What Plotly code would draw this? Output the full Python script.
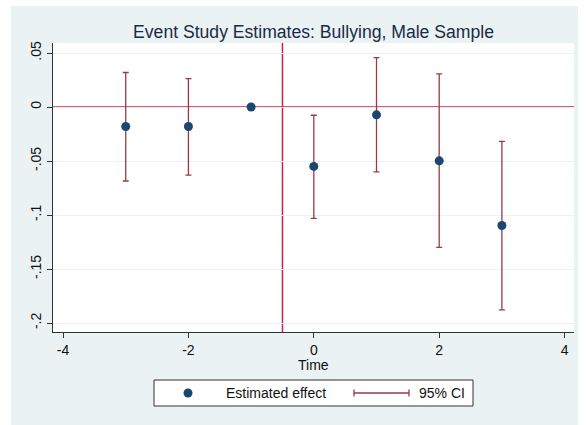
import plotly.graph_objects as go

# Data
time = [-3, -2, -1, 0, 1, 2, 3]
estimate = [-0.018, -0.018, 0.0, -0.055, -0.0072, -0.0498, -0.1097]
ci_upper = [0.032, 0.0264, 0.0, -0.0076, 0.0458, 0.0307, -0.0317]
ci_lower = [-0.0685, -0.063, 0.0, -0.103, -0.060, -0.130, -0.1878]
ytick_vals = [-0.2, -0.15, -0.1, -0.05, 0, 0.05]
ytick_text = ["-.2", "-.15", "-.1", "-.05", "0", ".05"]
xtick_vals = [-4, -2, 0, 2, 4]
xtick_text = ["-4", "-2", "0", "2", "4"]

W, H = 588, 425
L, R, T, B = 53, 574, 43, 332

def px(x):
    return (x - L) / (R - L)

def py(y):
    return (B - y) / (B - T)

NAVY = "#1a476f"
MAROON = "#9b3a46"
RED = "#d21f45"
BG = "#eaf2f3"
FONT = "Liberation Sans, Arial, sans-serif"

err_plus = [u - e for u, e in zip(ci_upper, estimate)]
err_minus = [e - l for e, l in zip(estimate, ci_lower)]

fig = go.Figure()
fig.add_trace(go.Scatter(
    x=time, y=estimate, mode="markers",
    marker=dict(color=NAVY, size=9),
    error_y=dict(type="data", symmetric=False, array=err_plus, arrayminus=err_minus,
                 color=MAROON, thickness=1.3, width=3),
    showlegend=False,
))

shapes = [
    # white margins
    dict(type="rect", xref="paper", yref="paper", x0=px(0), x1=px(W), y0=py(0), y1=py(6),
         fillcolor="white", line=dict(width=0), layer="below"),
    dict(type="rect", xref="paper", yref="paper", x0=px(0), x1=px(11), y0=py(H), y1=py(0),
         fillcolor="white", line=dict(width=0), layer="below"),
    dict(type="rect", xref="paper", yref="paper", x0=px(578), x1=px(W), y0=py(H), y1=py(0),
         fillcolor="white", line=dict(width=0), layer="below"),
    # reference lines
    dict(type="line", xref="paper", yref="y", x0=0, x1=1, y0=0, y1=0,
         line=dict(color=RED, width=1.8), layer="between"),
    dict(type="line", xref="x", yref="paper", x0=-0.5, x1=-0.5, y0=0, y1=1,
         line=dict(color=RED, width=1.5), layer="between"),
    # legend box
    dict(type="rect", xref="paper", yref="paper", x0=px(154), x1=px(473), y0=py(406), y1=py(380),
         fillcolor="white", line=dict(color="#333333", width=1)),
    # legend marker
    dict(type="circle", xref="paper", yref="paper", x0=px(183.5), x1=px(192.5), y0=py(397.5), y1=py(388.5),
         fillcolor=NAVY, line=dict(width=0)),
    # legend CI symbol
    dict(type="line", xref="paper", yref="paper", x0=px(354), x1=px(409), y0=py(393), y1=py(393),
         line=dict(color=MAROON, width=1.3)),
    dict(type="line", xref="paper", yref="paper", x0=px(354), x1=px(354), y0=py(389.5), y1=py(396.5),
         line=dict(color=MAROON, width=1.3)),
    dict(type="line", xref="paper", yref="paper", x0=px(409), x1=px(409), y0=py(389.5), y1=py(396.5),
         line=dict(color=MAROON, width=1.3)),
]

annotations = [
    dict(text="Estimated effect", xref="paper", yref="paper", x=px(224), y=py(393),
         xanchor="left", yanchor="middle", showarrow=False,
         font=dict(family=FONT, size=14, color="#111111")),
    dict(text="95% CI", xref="paper", yref="paper", x=px(417), y=py(393),
         xanchor="left", yanchor="middle", showarrow=False,
         font=dict(family=FONT, size=14, color="#111111")),
    dict(text="Time", xref="paper", yref="paper", x=px(313.7), y=py(365),
         xanchor="center", yanchor="middle", showarrow=False,
         font=dict(family=FONT, size=14, color="#111111")),
]

fig.update_layout(
    width=W, height=H,
    margin=dict(l=L, r=W - R, t=T, b=H - B, pad=0, autoexpand=False),
    paper_bgcolor=BG, plot_bgcolor="white",
    title=dict(text="Event Study Estimates: Bullying, Male Sample",
               x=0.5, xref="paper", y=1 - 32 / H, yref="container",
               xanchor="center", yanchor="middle",
               font=dict(family=FONT, size=17.6, color="#1a2a48")),
    font=dict(family=FONT, size=14, color="#111111"),
    shapes=shapes, annotations=annotations,
    showlegend=False,
)
fig.update_xaxes(range=[-4.16, 4.15], tickvals=xtick_vals, ticktext=xtick_text,
                 ticks="outside", ticklen=5, automargin=False,
                 tickcolor="#333333", showline=True, linecolor="#333333", linewidth=1,
                 showgrid=False, zeroline=False, tickfont=dict(size=14))
fig.update_yaxes(range=[-0.2083, 0.0593], tickvals=ytick_vals, ticktext=ytick_text,
                 ticks="outside", ticklen=5, tickcolor="#333333", tickangle=-90,
                 automargin=False,
                 showline=True, linecolor="#333333", linewidth=1,
                 showgrid=True, gridcolor=BG, gridwidth=1.2, zeroline=False,
                 tickfont=dict(size=14))

fig.write_html("out.html", config={"displayModeBar": False},
               post_script="document.body.style.margin='0';")
